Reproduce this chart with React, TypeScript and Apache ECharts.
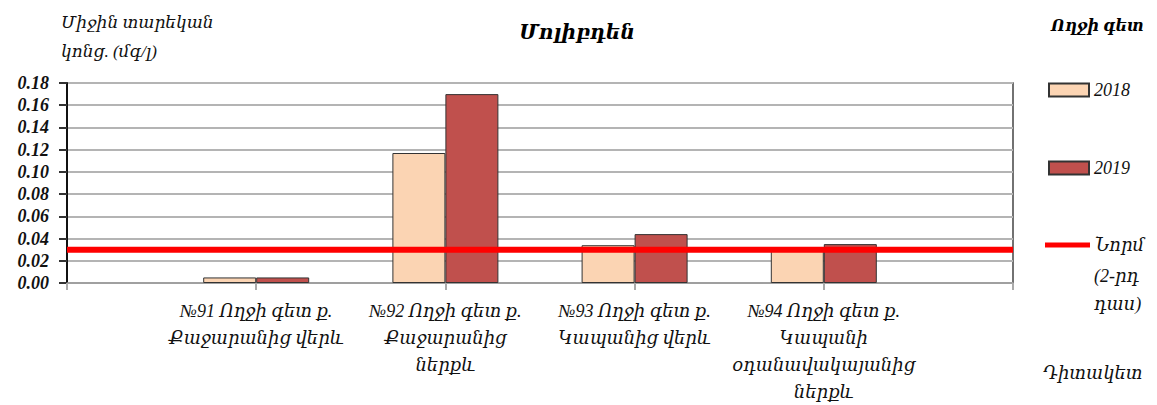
import React, { useEffect, useRef } from "react";
import * as echarts from "echarts";

const categories = [
  "",
  "№91 Ողջի գետ ք.\nՔաջարանից վերև",
  "№92 Ողջի գետ ք.\nՔաջարանից\nներքև",
  "№93 Ողջի գետ ք.\nԿապանից վերև",
  "№94 Ողջի գետ ք.\nԿապանի\nօդանավակայանից\nներքև",
  "",
];
const values2018 = [null, 0.005, 0.117, 0.034, 0.029, null];
const values2019 = [null, 0.005, 0.17, 0.044, 0.035, null];
const normValues = [0.03, 0.03, 0.03, 0.03, 0.03, 0.03];
const yTicks = { min: 0, max: 0.18, interval: 0.02 };

const FONT = "'Liberation Serif', 'DejaVu Serif', serif";

export default function App() {
  const ref = useRef<HTMLDivElement>(null);
  useEffect(() => {
    if (!ref.current) return;
    const chart = echarts.init(ref.current, undefined, { renderer: "svg" });
    const legendText = {
      fontFamily: FONT,
      fontStyle: "italic" as const,
      fontSize: 18,
      color: "#111",
    };
    chart.setOption({
      animation: false,
      backgroundColor: "#fff",
      title: {
        text: "Մոլիբդեն",
        left: 572,
        top: 17,
        textAlign: "center",
        textStyle: {
          fontFamily: FONT,
          fontStyle: "italic",
          fontWeight: "bold",
          fontSize: 20,
          color: "#000",
        },
      },
      graphic: [
        {
          type: "text",
          left: 61,
          top: 8,
          style: {
            text: "Միջին տարեկան\nկոնց. (մգ/լ)",
            font: `italic 17px ${FONT}`,
            fill: "#111",
            lineHeight: 29,
          },
        },
        {
          type: "text",
          left: 1051,
          top: 17,
          style: {
            text: "Ողջի գետ",
            font: `italic bold 16px ${FONT}`,
            fill: "#000",
          },
        },
        {
          type: "text",
          left: 1043,
          top: 364,
          style: {
            text: "Դիտակետ",
            font: `italic 18px ${FONT}`,
            fill: "#111",
          },
        },
        {
          type: "text",
          left: 1094,
          top: 262,
          style: {
            text: "(2-րդ\nդաս)",
            font: `italic 18px ${FONT}`,
            fill: "#111",
            lineHeight: 28,
          },
        },
      ],
      legend: [
        {
          data: ["2018"],
          left: 1043,
          top: 76,
          itemWidth: 40,
          itemHeight: 13,
          itemGap: 6,
          icon: "rect",
          textStyle: legendText,
        },
        {
          data: ["2019"],
          left: 1043,
          top: 154,
          itemWidth: 40,
          itemHeight: 13,
          icon: "rect",
          textStyle: legendText,
        },
        {
          data: [{ name: "Նորմ", itemStyle: { color: "#ff0000" } }],
          left: 1040,
          top: 231,
          itemWidth: 45,
          itemHeight: 5,
          icon: "rect",
          textStyle: legendText,
        },
      ],
      grid: {
        left: 67,
        right: 144,
        top: 83,
        bottom: 119,
        show: true,
        borderColor: "#444",
        borderWidth: 1.5,
        backgroundColor: "transparent",
      },
      xAxis: {
        type: "category",
        data: categories,
        boundaryGap: false,
        axisLine: { show: true, lineStyle: { color: "#999", width: 1.5 } },
        axisTick: {
          show: true,
          length: 7,
          lineStyle: { color: "#aaa", width: 2 },
        },
        axisLabel: {
          interval: 0,
          margin: 14,
          fontFamily: FONT,
          fontStyle: "italic",
          fontSize: 18,
          lineHeight: 27,
          color: "#111",
          align: "center",
        },
        splitLine: { show: false },
      },
      yAxis: {
        type: "value",
        min: yTicks.min,
        max: yTicks.max,
        interval: yTicks.interval,
        axisLine: { show: true, lineStyle: { color: "#111", width: 2 } },
        axisTick: { show: true, length: 8, lineStyle: { color: "#333", width: 2 } },
        axisLabel: {
          formatter: (v: number) => v.toFixed(2),
          fontFamily: FONT,
          fontStyle: "italic",
          fontWeight: "bold",
          fontSize: 18,
          color: "#111",
          margin: 18,
        },
        splitLine: { show: true, lineStyle: { color: "#b4b4b4", width: 2 } },
      },
      series: [
        {
          name: "2018",
          type: "bar",
          data: values2018,
          barWidth: 53,
          barGap: "0%",
          itemStyle: { color: "#FBD4B3", borderColor: "#333", borderWidth: 1 },
        },
        {
          name: "2019",
          type: "bar",
          data: values2019,
          barWidth: 53,
          barGap: "0%",
          itemStyle: { color: "#C0504D", borderColor: "#333", borderWidth: 1 },
        },
        {
          name: "Նորմ",
          type: "line",
          data: normValues,
          symbol: "none",
          lineStyle: { color: "#ff0000", width: 6 },
          itemStyle: { color: "#ff0000" },
          z: 5,
        },
      ],
    });
    return () => chart.dispose();
  }, []);
  return (
    <div
      ref={ref}
      style={{ position: "fixed", left: 0, top: 0, width: 1157, height: 405 }}
    />
  );
}
